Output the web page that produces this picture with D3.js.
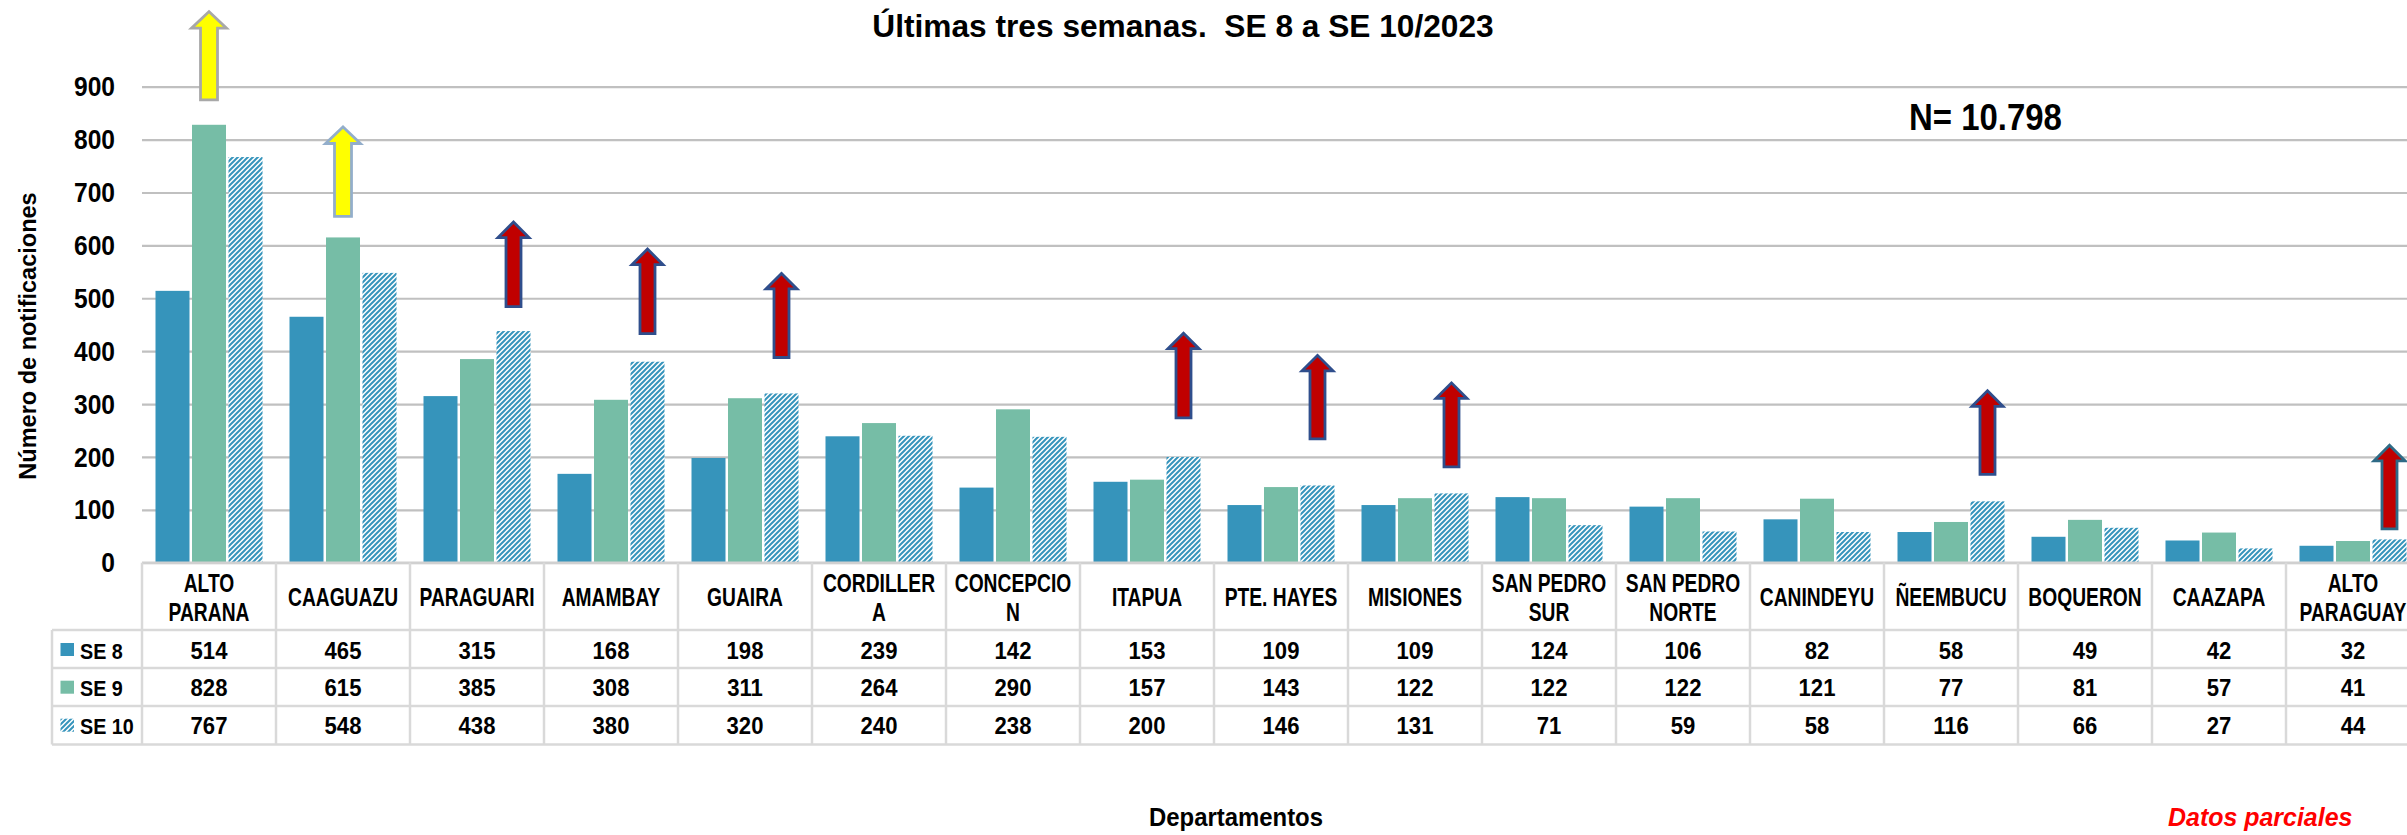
<!DOCTYPE html>
<html>
<head>
<meta charset="utf-8">
<script src="https://cdn.jsdelivr.net/npm/d3@7"></script>
<style>
  html, body { margin: 0; padding: 0; background: #fff; overflow: hidden; }
  svg { display: block; }
  text { font-family: "Liberation Sans", Arial, "DejaVu Sans", sans-serif; font-weight: bold; fill: #000; white-space: pre; }
</style>
</head>
<body>
<script>
// ---------------- DATA ----------------
const categories = ["ALTO\nPARANA", "CAAGUAZU", "PARAGUARI", "AMAMBAY", "GUAIRA", "CORDILLER\nA",
  "CONCEPCIO\nN", "ITAPUA", "PTE. HAYES", "MISIONES", "SAN PEDRO\nSUR", "SAN PEDRO\nNORTE",
  "CANINDEYU", "ÑEEMBUCU", "BOQUERON", "CAAZAPA", "ALTO\nPARAGUAY"];
const seriesNames = ["SE 8", "SE 9", "SE 10"];
const se8  = [514, 465, 315, 168, 198, 239, 142, 153, 109, 109, 124, 106, 82, 58, 49, 42, 32];
const se9  = [828, 615, 385, 308, 311, 264, 290, 157, 143, 122, 122, 122, 121, 77, 81, 57, 41];
const se10 = [767, 548, 438, 380, 320, 240, 238, 200, 146, 131, 71, 59, 58, 116, 66, 27, 44];
const yTicks = [0, 100, 200, 300, 400, 500, 600, 700, 800, 900];
const titleText = "Últimas tres semanas.  SE 8 a SE 10/2023";
const nText = "N= 10.798";
const xTitle = "Departamentos";
const yTitle = "Número de notificaciones";
const noteText = "Datos parciales";
// annotation arrows (category index, series it sits over, value range it spans, kind)
const arrowCat  = [0, 1, 2, 3, 4, 7, 8, 9, 13, 16];
const arrowSer  = [1, 1, 2, 2, 2, 2, 2, 2, 2, 2];
const arrowFrom = [875, 655, 484, 433, 388, 274, 234, 181, 167, 64];
const arrowTo   = [1042, 824, 644, 593, 547, 434, 392, 340, 325, 222];
const arrowKind = ["alerta", "alerta", "aumento", "aumento", "aumento", "aumento", "aumento", "aumento", "aumento", "aumento"];

// ---------------- LAYOUT ----------------
const W = 2407, H = 835;
const plotLeft = 142, band = 134;
const colors = ["#3694BB", "#76BDA6", "url(#hatch)"];
const svg = d3.select("body").append("svg").attr("width", W).attr("height", H);

const defs = svg.append("defs");
const pat = defs.append("pattern").attr("id", "hatch").attr("patternUnits", "userSpaceOnUse")
  .attr("width", 5).attr("height", 5);
pat.append("rect").attr("width", 5).attr("height", 5).attr("fill", "#fff");
pat.append("path").attr("d", "M-1,1 l2,-2 M0,5 l5,-5 M4,6 l2,-2")
  .attr("stroke", "#3594BC").attr("stroke-width", 2);

const x = d3.scaleBand().domain(d3.range(categories.length))
  .range([plotLeft, plotLeft + band * categories.length]);
const xs = d3.scaleBand().domain(d3.range(3)).range([13.5, 120.5]).paddingInner(2.5 / 36.5);
const y = d3.scaleLinear().domain([0, 900]).range([562.7, 86.7]);

function t(sel, px, py, txt, size, sx, anchor) {
  return sel.append("text")
    .attr("transform", `translate(${px},${py}) scale(${sx},1)`)
    .attr("text-anchor", anchor || "middle")
    .attr("xml:space", "preserve")
    .style("font-size", size + "px")
    .text(txt);
}

// gridlines
const yAxis = d3.axisLeft(y).tickValues(yTicks).tickSize(-(W - plotLeft)).tickFormat("");
const gy = svg.append("g").attr("transform", `translate(${plotLeft},0)`).call(yAxis);
gy.select(".domain").remove();
gy.selectAll(".tick line").attr("stroke", "#C0C0C0").attr("stroke-width", 2.2);

// tick labels
yTicks.forEach(v => {
  t(svg, 115, y(v) + 9.6, String(v), 27, 0.91, "end");
});

// bars
const seriesData = [se8, se9, se10];
seriesData.forEach((vals, si) => {
  svg.append("g").selectAll("rect").data(vals).join("rect")
    .attr("x", (d, i) => x(i) + xs(si))
    .attr("width", xs.bandwidth())
    .attr("y", d => y(d))
    .attr("height", d => y(0) - y(d))
    .attr("fill", colors[si]);
});

// arrows
arrowCat.forEach((ci, k) => {
  const cx = x(ci) + xs(arrowSer[k]) + xs.bandwidth() / 2;
  const yb = y(arrowFrom[k]), yt = y(arrowTo[k]);
  const red = arrowKind[k] === "aumento";
  const sw = red ? 15 : 17, hw = red ? 31 : 35, hh = red ? 15.5 : 16.6;
  const p = d3.path();
  p.moveTo(cx - sw / 2, yb);
  p.lineTo(cx - sw / 2, yt + hh);
  p.lineTo(cx - hw / 2, yt + hh);
  p.lineTo(cx, yt);
  p.lineTo(cx + hw / 2, yt + hh);
  p.lineTo(cx + sw / 2, yt + hh);
  p.lineTo(cx + sw / 2, yb);
  p.closePath();
  svg.append("path").attr("d", p.toString())
    .attr("fill", red ? "#C00000" : "#FFFF00")
    .attr("stroke", red ? (ci === 16 ? "#2E6A86" : "#2F4E8C") : (ci === 0 ? "#A8A8A8" : "#93AECB"))
    .attr("stroke-width", 2.8).attr("stroke-linejoin", "miter");
});

// data table
const tb = svg.append("g");
const rowY = [562.7, 630, 668, 706, 744.5];
const lineC = "#D9D9D9";
const tableRight = plotLeft + band * categories.length;
tb.append("line").attr("x1", plotLeft).attr("x2", tableRight).attr("y1", rowY[0]).attr("y2", rowY[0])
  .attr("stroke", "#D0D0D0").attr("stroke-width", 2.5);
[1, 2, 3, 4].forEach(r => {
  tb.append("line").attr("x1", 52).attr("x2", tableRight).attr("y1", rowY[r]).attr("y2", rowY[r])
    .attr("stroke", lineC).attr("stroke-width", 2.5);
});
d3.range(categories.length + 1).forEach(i => {
  const xx = plotLeft + band * i;
  tb.append("line").attr("x1", xx).attr("x2", xx).attr("y1", rowY[0]).attr("y2", rowY[4])
    .attr("stroke", lineC).attr("stroke-width", 2.5);
});
tb.append("line").attr("x1", 52).attr("x2", 52).attr("y1", rowY[1]).attr("y2", rowY[4])
  .attr("stroke", lineC).attr("stroke-width", 2.5);

// header labels
categories.forEach((c, i) => {
  const cx = x(i) + band / 2;
  const lines = c.split("\n");
  if (lines.length === 1) {
    t(tb, cx, 606, lines[0], 26, 0.74);
  } else {
    t(tb, cx, 592, lines[0], 26, 0.74);
    t(tb, cx, 620.5, lines[1], 26, 0.74);
  }
});
// values + legend
const valY = [658.5, 696.2, 734.2];
seriesData.forEach((vals, si) => {
  vals.forEach((v, i) => {
    t(tb, x(i) + band / 2, valY[si], String(v), 23.5, 0.94);
  });
  tb.append("rect").attr("x", 60.5).attr("y", valY[si] - 15.5).attr("width", 13.5).attr("height", 13)
    .attr("fill", colors[si]);
  t(tb, 80, valY[si], seriesNames[si], 21.5, 0.92, "start");
});

// titles and notes
t(svg, 1183, 37, titleText, 32, 0.99);
t(svg, 1909, 130, nText, 37, 0.89, "start");
t(svg, 1236, 826, xTitle, 26, 0.92);
svg.append("text")
  .attr("transform", `translate(36,336) rotate(-90)`)
  .attr("text-anchor", "middle").style("font-size", "23.5px").text(yTitle);
svg.append("text")
  .attr("transform", `translate(2168,826) scale(0.96,1)`)
  .attr("text-anchor", "start").style("font-size", "26px").style("font-style", "italic")
  .style("fill", "#FF0000").text(noteText);
</script>
</body>
</html>
